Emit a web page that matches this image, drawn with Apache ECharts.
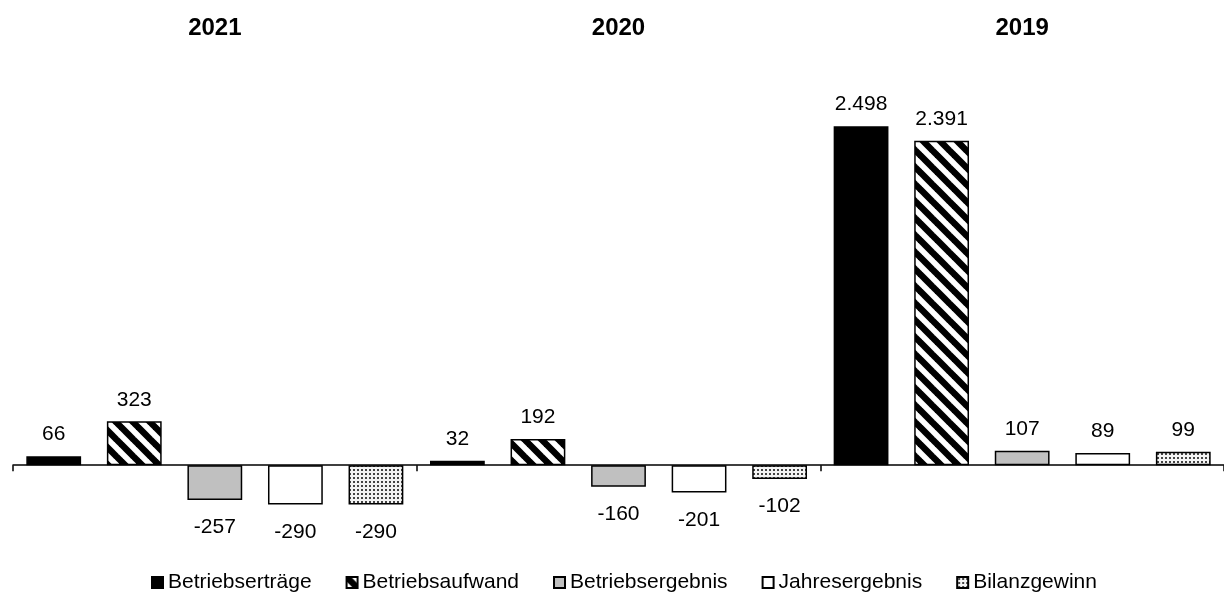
<!DOCTYPE html>
<html>
<head>
<meta charset="utf-8">
<script src="https://cdn.jsdelivr.net/npm/echarts@6/dist/echarts.min.js"></script>
<style>
  html, body { margin: 0; padding: 0; background: #fff; }
  #chart { width: 1224px; height: 596px; }
</style>
</head>
<body>
<div id="chart"></div>
<script>
var years = ['2021', '2020', '2019'];
var seriesNames = ['Betriebserträge', 'Betriebsaufwand', 'Betriebsergebnis', 'Jahresergebnis', 'Bilanzgewinn'];
var betriebsertraege = [66, 32, 2498];
var betriebsaufwand = [323, 192, 2391];
var betriebsergebnis = [-257, -160, 107];
var jahresergebnis = [-290, -201, 89];
var bilanzgewinn = [-290, -102, 99];

var FONT = 'Liberation Sans, Arial, sans-serif';

function stripeTile() {
    var s = 17;
    var c = document.createElement('canvas');
    c.width = s; c.height = s;
    var ctx = c.getContext('2d');
    ctx.fillStyle = '#fff';
    ctx.fillRect(0, 0, s, s);
    ctx.strokeStyle = '#000';
    ctx.lineWidth = 6.5;
    [-s, 0, s].forEach(function(off) {
        ctx.beginPath();
        ctx.moveTo(off - 2, -2);
        ctx.lineTo(off + s + 2, s + 2);
        ctx.stroke();
    });
    return c;
}

function dotTile() {
    var c = document.createElement('canvas');
    c.width = 4; c.height = 4;
    var ctx = c.getContext('2d');
    ctx.fillStyle = '#f4f4f4';
    ctx.fillRect(0, 0, 4, 4);
    ctx.fillStyle = '#444';
    ctx.fillRect(1, 1, 2, 2);
    return c;
}

function fmt(v) {
    var neg = v < 0;
    var s = String(Math.abs(v)).replace(/\B(?=(\d{3})+(?!\d))/g, '.');
    return (neg ? '-' : '') + s;
}

var fills = [
    '#000',
    { image: stripeTile(), repeat: 'repeat' },
    '#c0c0c0',
    '#fff',
    { image: dotTile(), repeat: 'repeat' }
];
var values = [betriebsertraege, betriebsaufwand, betriebsergebnis, jahresergebnis, bilanzgewinn];

var chart = echarts.init(document.getElementById('chart'));

var series = seriesNames.map(function(name, i) {
    return {
        name: name,
        type: 'bar',
        barGap: '47%',
        barCategoryGap: '6.6%',
        itemStyle: { color: fills[i], borderColor: '#000', borderWidth: 1.5 },
        data: values[i].map(function(v) {
            return {
                value: v,
                label: {
                    position: v >= 0 ? 'top' : 'bottom',
                    distance: v >= 0 ? 11 : 17
                }
            };
        }),
        label: {
            show: true,
            color: '#000',
            fontSize: 21,
            fontFamily: FONT,
            formatter: function(p) { return fmt(p.value); }
        }
    };
});

chart.setOption({
    animation: false,
    backgroundColor: '#fff',
    grid: { left: 13, right: -6, top: 92, height: 441 },
    legend: {
        data: seriesNames,
        icon: 'rect',
        left: 146,
        top: 567,
        itemWidth: 11,
        itemHeight: 11,
        itemGap: 34,
        textStyle: { color: '#000', fontSize: 21, fontFamily: FONT }
    },
    xAxis: [{
        type: 'category',
        data: years,
        position: 'bottom',
        axisLine: { onZero: true, lineStyle: { color: '#000', width: 1.5 } },
        axisTick: { show: true, length: 6, lineStyle: { color: '#000', width: 1.5 } },
        axisLabel: { show: false }
    }, {
        type: 'category',
        data: years,
        position: 'top',
        axisLine: { show: false },
        axisTick: { show: false },
        axisLabel: {
            margin: 52,
            color: '#000',
            fontSize: 24,
            fontWeight: 'bold',
            fontFamily: FONT
        }
    }],
    yAxis: {
        type: 'value',
        show: false,
        min: -500,
        max: 2750,
        splitLine: { show: false }
    },
    series: series
});
</script>
</body>
</html>
